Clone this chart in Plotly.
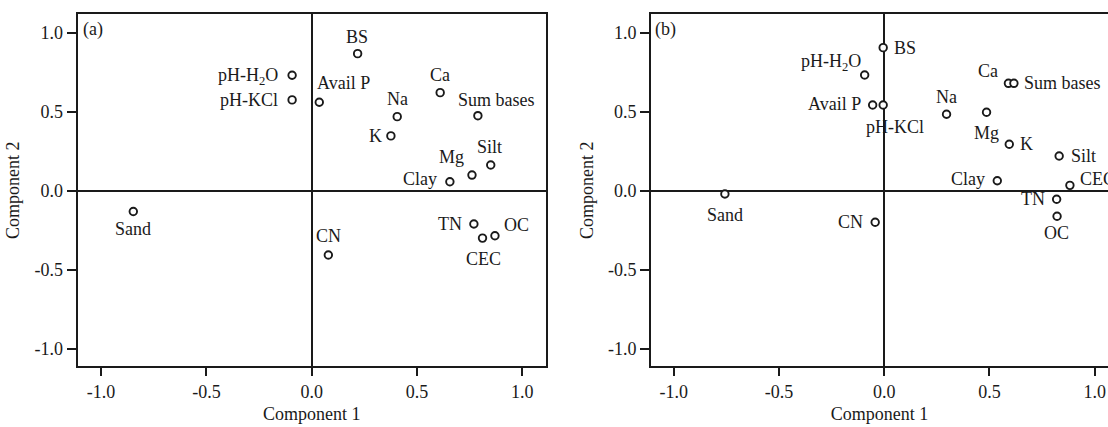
import plotly.graph_objects as go

OFF = 0
W, H = 1108, 427

# ---------------- data ----------------
vars_a = ["BS", "pH-H<sub>2</sub>O", "pH-KCl", "Avail P", "Ca", "Na", "Sum bases", "K",
          "Silt", "Mg", "Clay", "Sand", "CN", "TN", "OC", "CEC"]
comp1_a = [0.218, -0.093, -0.093, 0.036, 0.610, 0.406, 0.789, 0.376,
           0.850, 0.761, 0.656, -0.847, 0.079, 0.770, 0.870, 0.811]
comp2_a = [0.868, 0.731, 0.575, 0.560, 0.621, 0.469, 0.475, 0.347,
           0.163, 0.099, 0.057, -0.132, -0.407, -0.211, -0.285, -0.300]

vars_b = ["BS", "pH-H<sub>2</sub>O", "Avail P", "pH-KCl", "Na", "Ca", "Sum bases", "Mg",
          "K", "Silt", "Clay", "CEC", "TN", "OC", "Sand", "CN"]
comp1_b = [-0.005, -0.093, -0.055, -0.005, 0.296, 0.590, 0.616, 0.486,
           0.594, 0.831, 0.537, 0.882, 0.819, 0.821, -0.757, -0.043]
comp2_b = [0.906, 0.733, 0.543, 0.543, 0.484, 0.680, 0.680, 0.497,
           0.294, 0.220, 0.063, 0.034, -0.054, -0.162, -0.021, -0.200]

tick_vals = [-1.0, -0.5, 0.0, 0.5, 1.0]
tick_labels = ["-1.0", "-0.5", "0.0", "0.5", "1.0"]

# ---------------- label placement (anchor, dx px, dy px; screen coords) ----------------
place_a = [("center", -1, -17), ("right", -13, 1), ("right", -13, 0), ("left", -3, -19),
           ("center", 0, -18), ("center", 0, -18), ("left", -21, -16), ("right", -8, 0),
           ("center", -1, -18), ("center", -20, -18), ("right", -12, -3), ("center", 0, 17),
           ("center", 0, -19), ("right", -11, 0), ("left", 8, -11), ("center", 1, 21)]
place_b = [("left", 10, 0), ("right", -3, -12), ("right", -11, -1), ("left", -18, 22),
           ("center", 0, -17), ("center", -20, -12), ("left", 9, 0), ("center", 0, 21),
           ("left", 10, 0), ("left", 11, 0), ("right", -11, -2), ("left", 9, -6),
           ("right", -11, 0), ("center", -1, 17), ("center", 0, 21), ("right", -11, 0)]

FONT = "Liberation Serif, Times New Roman, serif"
FS = 18
INK = "#1a1a1a"


def px_x(p):
    return (p - OFF) / W


def px_y(p):
    return 1 - (p - OFF) / H


fig = go.Figure()

marker = dict(symbol="circle", size=7.5, color="white", line=dict(color=INK, width=1.9))
fig.add_trace(go.Scatter(x=comp1_a, y=comp2_a, mode="markers", marker=marker,
                         xaxis="x", yaxis="y", showlegend=False, hoverinfo="skip"))
fig.add_trace(go.Scatter(x=comp1_b, y=comp2_b, mode="markers", marker=marker,
                         xaxis="x2", yaxis="y2", showlegend=False, hoverinfo="skip"))

annotations = []
for names, xs, ys, places, xr, yr in [(vars_a, comp1_a, comp2_a, place_a, "x", "y"),
                                      (vars_b, comp1_b, comp2_b, place_b, "x2", "y2")]:
    for n, xv, yv, (anc, dx, dy) in zip(names, xs, ys, places):
        annotations.append(dict(x=xv, y=yv, xref=xr, yref=yr, text=n, showarrow=False,
                                xanchor=anc, yanchor="middle", xshift=dx, yshift=-dy,
                                borderpad=0,
                                font=dict(family=FONT, size=FS, color=INK)))

annotations.append(dict(x=px_x(82), y=px_y(30), xref="paper", yref="paper", text="(a)",
                        showarrow=False, xanchor="left", yanchor="middle", borderpad=0,
                        font=dict(family=FONT, size=FS, color=INK)))
annotations.append(dict(x=px_x(654), y=px_y(30), xref="paper", yref="paper", text="(b)",
                        showarrow=False, xanchor="left", yanchor="middle", borderpad=0,
                        font=dict(family=FONT, size=FS, color=INK)))

ydom = [px_y(366.3), px_y(14)]


def xax(domain, rng, mirror, anchor):
    return dict(domain=domain, range=rng, anchor=anchor, showgrid=False,
                zeroline=True, zerolinecolor=INK, zerolinewidth=1.7,
                showline=True, linecolor=INK, linewidth=2, mirror=mirror,
                ticks="outside", ticklen=8, tickwidth=2, tickcolor=INK,
                tickvals=tick_vals, ticktext=tick_labels,
                tickfont=dict(family=FONT, size=FS, color=INK),
                ticklabeloverflow="allow",
                title=dict(text="Component 1", font=dict(family=FONT, size=FS, color=INK),
                           standoff=6),
                automargin=False, fixedrange=True)


def yax(rng, mirror, anchor):
    return dict(domain=ydom, range=rng, anchor=anchor, showgrid=False,
                zeroline=True, zerolinecolor=INK, zerolinewidth=1.7,
                showline=True, linecolor=INK, linewidth=2, mirror=mirror,
                ticks="outside", ticklen=9, tickwidth=2, tickcolor=INK,
                tickvals=tick_vals, ticktext=tick_labels,
                tickfont=dict(family=FONT, size=FS, color=INK),
                title=dict(text="Component 2", font=dict(family=FONT, size=FS, color=INK),
                           standoff=10),
                automargin=False, fixedrange=True)


fig.update_layout(
    width=W, height=H,
    margin=dict(l=0, r=0, t=0, b=0),
    paper_bgcolor="white", plot_bgcolor="white",
    xaxis=xax([px_x(77.7), px_x(545.7)], [-1.111, 1.111], True, "y"),
    yaxis=yax([-1.112, 1.119], True, "x"),
    xaxis2=xax([px_x(651), 1.0], [-1.108, 1.063], True, "y2"),
    yaxis2=yax([-1.112, 1.119], False, "x2"),
    annotations=annotations,
    showlegend=False,
)

fig.write_html("out.html",
               config={"displayModeBar": False, "staticPlot": True},
               post_script="document.body.style.margin='0';"
                           "document.body.style.overflow='hidden';")
